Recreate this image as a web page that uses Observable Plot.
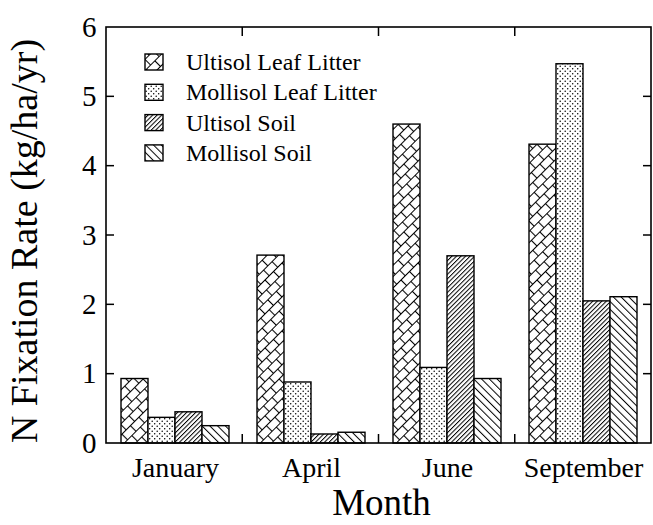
<!DOCTYPE html>
<html><head><meta charset="utf-8">
<script src="https://cdn.jsdelivr.net/npm/d3@7"></script>
<script src="https://cdn.jsdelivr.net/npm/@observablehq/plot@0.6"></script>
<style>
body{margin:0;background:#fff;}
#chart svg{display:block;font-family:"Liberation Serif","Times New Roman",serif;}
</style></head><body>
<svg width="0" height="0" style="position:absolute;left:0;top:0">
<defs>
<pattern id="p-ull" width="12" height="16" patternUnits="userSpaceOnUse" patternTransform="rotate(-45)">
<rect width="12" height="16" fill="white"/>
<path d="M0,0.5H12M0,8.5H12M0.5,0V8.5M6.5,8.5V16" stroke="black" stroke-width="1.1" fill="none"/>
</pattern>
<pattern id="p-mll" width="5" height="5" patternUnits="userSpaceOnUse">
<rect width="5" height="5" fill="white"/>
<circle cx="1.2" cy="1.2" r="0.75" fill="black"/>
<circle cx="3.7" cy="3.7" r="0.75" fill="black"/>
</pattern>
<pattern id="p-us" width="3.2" height="10" patternUnits="userSpaceOnUse" patternTransform="rotate(45)">
<rect width="3.2" height="10" fill="white"/>
<path d="M0.5,0V10" stroke="black" stroke-width="1"/>
</pattern>
<pattern id="p-ms" width="5.5" height="10" patternUnits="userSpaceOnUse" patternTransform="rotate(-45)">
<rect width="5.5" height="10" fill="white"/>
<path d="M0.5,0V10" stroke="black" stroke-width="1"/>
</pattern>
</defs></svg>
<div id="chart"></div>
<script>
const months = ["January", "April", "June", "September"];
const series = ["Ultisol Leaf Litter", "Mollisol Leaf Litter", "Ultisol Soil", "Mollisol Soil"];
const ultisolLeafLitter = [0.93, 2.71, 4.60, 4.31];
const mollisolLeafLitter = [0.37, 0.88, 1.09, 5.47];
const ultisolSoil = [0.45, 0.13, 2.70, 2.05];
const mollisolSoil = [0.25, 0.155, 0.93, 2.11];
const yTicks = [0, 1, 2, 3, 4, 5, 6];
const patternFills = ["url(#p-ull)", "url(#p-mll)", "url(#p-us)", "url(#p-ms)"];
const xTitle = "Month";
const yTitle = "N Fixation Rate (kg/ha/yr)";

const seriesValues = [ultisolLeafLitter, mollisolLeafLitter, ultisolSoil, mollisolSoil];
const data = months.flatMap((m, i) => series.map((s, j) => ({month: m, series: s, value: seriesValues[j][i]})));

const W = 653, H = 525;
const mL = 106, mR = 2, mT = 27, mB = 82;

const plot = Plot.plot({
  width: W, height: H,
  marginLeft: mL, marginRight: mR, marginTop: mT, marginBottom: mB,
  style: {background: "white", color: "black", fontFamily: "Liberation Serif, Times New Roman, serif"},
  fx: {domain: months, paddingInner: 0, paddingOuter: 0, label: null},
  x: {domain: series, paddingInner: 0, paddingOuter: 0.47, axis: null},
  y: {domain: [0, 6], axis: null},
  color: {domain: series, range: patternFills},
  marks: [
    Plot.barY(data, {fx: "month", x: "series", y: "value", fill: "series", stroke: "black", strokeWidth: 1.4}),
    Plot.axisFx({anchor: "bottom", tickSize: 0, tickPadding: 14, fontSize: 28, label: null}),
    Plot.axisY({anchor: "left", ticks: yTicks, tickSize: 0, tickPadding: 11, fontSize: 29, label: null, tickFormat: d3.format("d")})
  ]
});
document.getElementById("chart").appendChild(plot);

// Decorations using the plot's own scales
const svg = d3.select(plot);
const fxd = plot.scale("fx"), yd = plot.scale("y");
const fx = d3.scaleBand(fxd.domain, fxd.range).paddingInner(fxd.paddingInner ?? 0).paddingOuter(fxd.paddingOuter ?? 0).align(fxd.align ?? 0.5);
const y = d3.scaleLinear(yd.domain, yd.range);
const x0 = mL, x1 = W - mR, yTop = y(6), yBot = y(0);
const g = svg.append("g").attr("stroke", "black").attr("fill", "none");
g.append("rect").attr("x", x0).attr("y", yTop).attr("width", x1 - x0).attr("height", yBot - yTop).attr("stroke-width", 1.6);
for (const t of yTicks.slice(1, -1)) {
  g.append("line").attr("x1", x0).attr("x2", x0 + 8).attr("y1", y(t)).attr("y2", y(t)).attr("stroke-width", 1.5);
  g.append("line").attr("x1", x1 - 8).attr("x2", x1).attr("y1", y(t)).attr("y2", y(t)).attr("stroke-width", 1.5);
}
for (const m of months.slice(0, -1)) {
  const bx = fx(m) + fx.bandwidth() + fx.step() * fx.paddingInner() / 2;
  g.append("line").attr("x1", bx).attr("x2", bx).attr("y1", yTop).attr("y2", yTop + 9).attr("stroke-width", 1.5);
  g.append("line").attr("x1", bx).attr("x2", bx).attr("y1", yBot).attr("y2", yBot - 9).attr("stroke-width", 1.5);
}
// Axis titles
svg.append("text").attr("x", (x0 + x1) / 2 + 3).attr("y", 515).attr("text-anchor", "middle")
  .attr("font-size", 37).attr("fill", "black").text(xTitle);
svg.append("text").attr("transform", `translate(37,${(yTop + yBot) / 2 + 6}) rotate(-90)`).attr("text-anchor", "middle")
  .attr("font-size", 38).attr("fill", "black").text(yTitle);
// Legend
const lg = svg.append("g").attr("text-anchor", "start");
series.forEach((s, i) => {
  const cy = 62 + i * 30.3;
  lg.append("rect").attr("x", 145).attr("y", cy - 8).attr("width", 18).attr("height", 16)
    .attr("fill", patternFills[i]).attr("stroke", "black").attr("stroke-width", 1.4);
  lg.append("text").attr("x", 186).attr("y", cy + 8).attr("text-anchor", "start")
    .attr("font-size", 24).attr("fill", "black").text(s);
});
</script>
</body></html>
